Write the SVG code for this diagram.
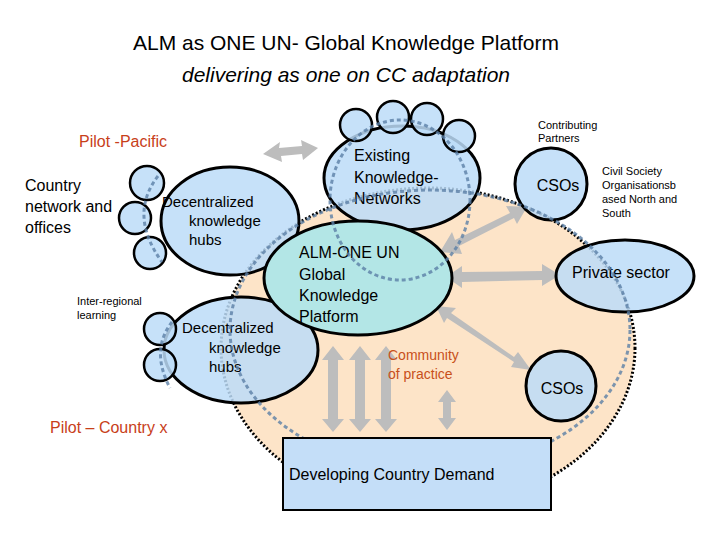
<svg xmlns="http://www.w3.org/2000/svg" width="720" height="540" viewBox="0 0 720 540">
<style>
.b{fill:#bcdcf8;fill-opacity:0.85;stroke:#000;stroke-width:3}
.s{fill:#bcdcf8;fill-opacity:0.85;stroke:#000;stroke-width:2.5}
.t{font-family:"Liberation Sans",Arial,sans-serif;fill:#000}
.d{fill:none;stroke:#5b7fa6;stroke-width:3;stroke-dasharray:4 3}
.a{fill:#bdbdbd}
</style>
<rect width="720" height="540" fill="#fff"/>
<text class="t" x="346" y="50" font-size="21" text-anchor="middle" font-family="Open Sans">ALM as ONE UN- Global Knowledge Platform</text>
<text class="t" x="346" y="82" font-size="21" text-anchor="middle" font-style="italic">delivering as one on CC adaptation</text>

<ellipse cx="428" cy="348" rx="207" ry="160" fill="#fde4c8" stroke="#000" stroke-width="3" stroke-dasharray="2 2"/>

<g id="connectors">
<polygon class="a" points="263,154 280,142 279,148 302,146 301,140 318,148 303,160 302,154 281,156 282,162"/>
<polygon class="a" points="440,252 452,232 455,240 510,213 506,206 527,207 517,224 514,218 459,246 462,254"/>
<polygon class="a" points="446,277 462,266 462,272 542,271 542,264 560,275 542,286 542,280 462,282 462,288"/>
<polygon class="a" points="436,306 456,308 451,313 514,357 518,352 531,370 511,367 514,362 447,318 444,323"/>
<polygon class="a" points="333,346 344,360 338,360 338,419 344,419 333,432 322,419 328,419 328,360 322,360"/>
<polygon class="a" points="360,346 371,360 365,360 365,419 371,419 360,432 349,419 355,419 355,360 349,360"/>
<polygon class="a" points="386,346 397,360 391,360 391,419 397,419 386,432 375,419 381,419 381,360 375,360"/>
<polygon class="a" points="447,390 456,402 451,402 451,418 456,418 447,430 438,418 443,418 443,402 438,402"/>
</g>

<g id="hub1">
<ellipse class="b" cx="230" cy="221" rx="69" ry="54"/>
<circle class="s" cx="147" cy="183" r="17"/>
<circle class="s" cx="135" cy="218" r="16"/>
<circle class="s" cx="150" cy="253" r="16"/>
<text class="t" font-size="15" fill="#222"><tspan x="162" y="207">Decentralized</tspan><tspan x="189" y="226">knowledge</tspan><tspan x="189" y="245">hubs</tspan></text>
</g>
<g id="hub2">
<ellipse class="b" cx="241" cy="350" rx="77" ry="53"/>
<circle class="s" cx="160" cy="329" r="16"/>
<circle class="s" cx="160" cy="365" r="16"/>
<text class="t" font-size="15" fill="#222"><tspan x="182" y="333">Decentralized</tspan><tspan x="209" y="353">knowledge</tspan><tspan x="209" y="372">hubs</tspan></text>
</g>
<g id="existing">
<ellipse class="b" cx="402" cy="178" rx="78" ry="52"/>
<circle class="s" cx="356" cy="125" r="16"/>
<circle class="s" cx="393" cy="117" r="16"/>
<circle class="s" cx="427" cy="119" r="16"/>
<circle class="s" cx="459" cy="136" r="16"/>
<text class="t" font-size="16"><tspan x="354" y="161">Existing</tspan><tspan x="354" y="183">Knowledge-</tspan><tspan x="354" y="204">Networks</tspan></text>
</g>
<g id="alm">
<ellipse cx="358" cy="278" rx="94" ry="57" fill="#b3e6e6" stroke="#000" stroke-width="3"/>
<text class="t" font-size="16"><tspan x="299" y="258">ALM-ONE UN</tspan><tspan x="299" y="280">Global</tspan><tspan x="299" y="301">Knowledge</tspan><tspan x="299" y="322">Platform</tspan></text>
</g>
<g id="csos1">
<circle class="b" cx="551" cy="184" r="36"/>
<text class="t" x="558" y="191" font-size="16" text-anchor="middle">CSOs</text>
</g>
<g id="private">
<ellipse class="b" cx="625" cy="276" rx="69" ry="36"/>
<text class="t" x="621" y="278" font-size="16" text-anchor="middle">Private sector</text>
</g>
<g id="csos2">
<circle class="b" cx="561" cy="386" r="35"/>
<text class="t" x="562" y="394" font-size="16" text-anchor="middle">CSOs</text>
</g>
<g id="dashes">
<ellipse class="d" cx="430" cy="330" rx="200" ry="140" opacity="0.8"/>
<ellipse class="d" cx="400" cy="200" rx="70" ry="80" opacity="0.8"/>
<path class="d" d="M158,176 Q128,215 162,262" opacity="0.8"/>
<path class="d" d="M172,322 Q150,350 170,388" opacity="0.8"/>
</g>
<g id="demand">
<rect x="283" y="438" width="268" height="72" fill="#c4def8" stroke="#000" stroke-width="2"/>
<text class="t" x="289" y="480" font-size="16">Developing Country Demand</text>
</g>
<g id="labels">
<text class="t" x="79" y="147" font-size="16" style="fill:#c8401a">Pilot -Pacific</text>
<text class="t" font-size="16"><tspan x="25" y="191">Country</tspan><tspan x="25" y="212">network and</tspan><tspan x="25" y="233">offices</tspan></text>
<text class="t" font-size="11"><tspan x="77" y="305">Inter-regional</tspan><tspan x="77" y="319">learning</tspan></text>
<text class="t" x="50" y="433" font-size="16" style="fill:#c8401a">Pilot – Country x</text>
<text class="t" font-size="14" style="fill:#c8501a"><tspan x="388" y="360">Community</tspan><tspan x="388" y="379">of practice</tspan></text>
<text class="t" font-size="11"><tspan x="538" y="129">Contributing</tspan><tspan x="538" y="142">Partners</tspan></text>
<text class="t" font-size="11"><tspan x="602" y="175">Civil Society</tspan><tspan x="602" y="189">Organisationsb</tspan><tspan x="602" y="203">ased North and</tspan><tspan x="602" y="217">South</tspan></text>
</g>
</svg>
